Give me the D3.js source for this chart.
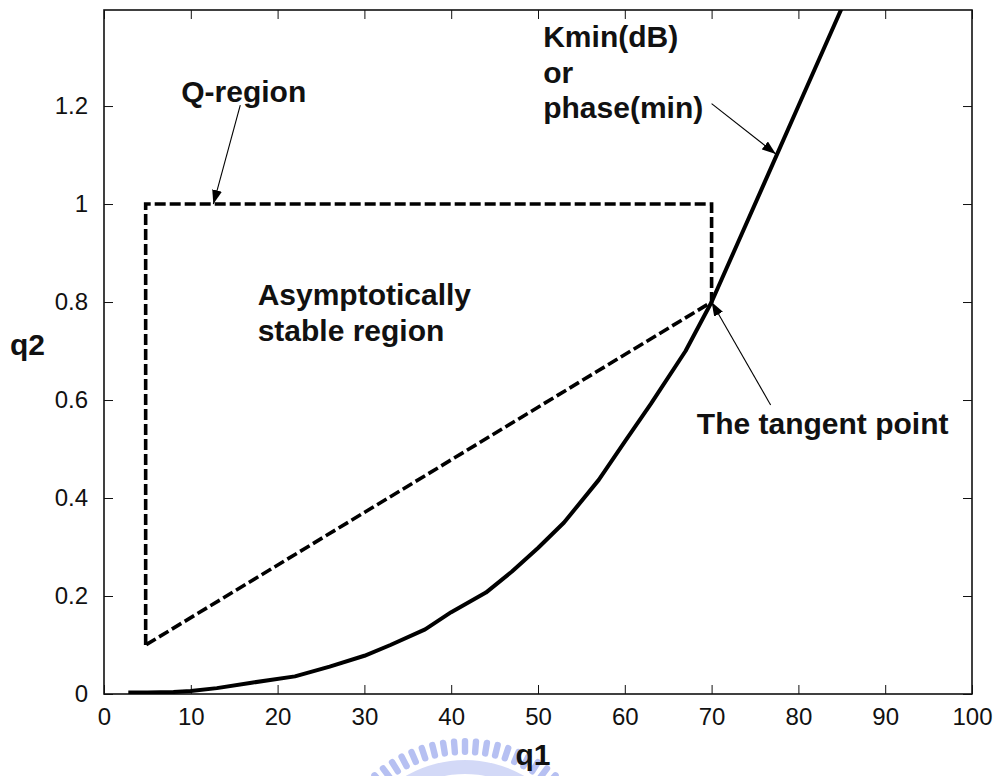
<!DOCTYPE html>
<html>
<head>
<meta charset="utf-8">
<script src="https://cdn.jsdelivr.net/npm/d3@7"></script>
<style>
  body { margin: 0; background: #fff; }
  svg { display: block; font-family: 'Liberation Sans', Arial, Helvetica, sans-serif; }
  .axis text { font-size: 24px; fill: #111; }
  .axis path, .axis line { stroke: #111; }
  .note { font-size: 30px; font-weight: bold; fill: #111; }
</style>
</head>
<body>
<div id="chart"></div>
<script>
// ── Data ──────────────────────────────────────────────────────────────────
// Kmin(dB) / phase(min) boundary curve
const curveQ1 = [2.8, 5, 8, 10, 13, 17, 22, 26, 30, 33, 37, 40, 44, 47, 50, 53, 57, 60, 63, 67, 70, 73, 77, 80, 83, 86];
const curveQ2 = [0.003, 0.003, 0.004, 0.006, 0.012, 0.023, 0.036, 0.056, 0.078, 0.100, 0.132, 0.167, 0.207, 0.250, 0.298, 0.350, 0.437, 0.515, 0.592, 0.700, 0.800, 0.920, 1.080, 1.200, 1.320, 1.440];

// Q-region outline (dashed)
const regionQ1 = [4.8, 4.8, 70, 70, 4.8];
const regionQ2 = [0.1, 1, 1, 0.8, 0.1];

const xTicks = [0, 10, 20, 30, 40, 50, 60, 70, 80, 90, 100];
const yTicks = [0, 0.2, 0.4, 0.6, 0.8, 1, 1.2];

// ── Layout ────────────────────────────────────────────────────────────────
const W = 1000, H = 776;
const margin = { top: 10, right: 28, bottom: 82, left: 104 };
const width  = W - margin.left - margin.right;
const height = H - margin.top - margin.bottom;

const svg = d3.select('#chart')
  .append('svg')
  .attr('width', W)
  .attr('height', H);

// faint seal watermark behind the q1 label
const wm = svg.append('g').attr('fill', '#aab6f0').attr('opacity', 0.85);
const wmC = { x: 465, y: 878 };
d3.range(-46, 47, 4.6).forEach(a => {
  wm.append('rect')
    .attr('x', -3.2).attr('y', -140).attr('width', 6.4).attr('height', 17)
    .attr('rx', 3)
    .attr('transform', `translate(${wmC.x},${wmC.y}) rotate(${a})`);
});
wm.append('path')
  .attr('transform', `translate(${wmC.x},${wmC.y})`)
  .attr('d', d3.arc().innerRadius(104).outerRadius(118).startAngle(-1.0).endAngle(1.0)())
  .attr('opacity', 0.6);

const g = svg.append('g')
  .attr('transform', `translate(${margin.left},${margin.top})`);

const x = d3.scaleLinear().domain([0, 100]).range([0, width]);
const y = d3.scaleLinear().domain([0, 1.396]).range([height, 0]);

// clip for the curve
g.append('clipPath').attr('id', 'plotclip')
  .append('rect').attr('width', width).attr('height', height);

// ── Axes (ticks inside, mirrored on all sides) ───────────────────────────
const tk = 9;
g.append('g')
  .attr('class', 'axis')
  .attr('transform', `translate(0,${height})`)
  .call(d3.axisBottom(x).tickValues(xTicks).tickSizeInner(-tk).tickSizeOuter(0).tickPadding(14))
  .call(s => s.select('.domain').remove())
  .selectAll('text').attr('dy', '0.71em');

g.append('g')
  .attr('class', 'axis')
  .call(d3.axisTop(x).tickValues(xTicks).tickSizeInner(-tk).tickSizeOuter(0).tickFormat(''))
  .call(s => s.select('.domain').remove());

g.append('g')
  .attr('class', 'axis')
  .call(d3.axisLeft(y).tickValues(yTicks).tickSizeInner(-tk).tickSizeOuter(0).tickPadding(16)
    .tickFormat(d => d3.format('~g')(d)))
  .call(s => s.select('.domain').remove());

g.append('g')
  .attr('class', 'axis')
  .attr('transform', `translate(${width},0)`)
  .call(d3.axisRight(y).tickValues(yTicks).tickSizeInner(-tk).tickSizeOuter(0).tickFormat(''))
  .call(s => s.select('.domain').remove());

g.append('rect')
  .attr('width', width).attr('height', height)
  .attr('fill', 'none').attr('stroke', '#111').attr('stroke-width', 1.6);

// ── Series ───────────────────────────────────────────────────────────────
const curveData  = curveQ1.map((q, i) => [q, curveQ2[i]]);
const regionData = regionQ1.map((q, i) => [q, regionQ2[i]]);

const line = d3.line().x(d => x(d[0])).y(d => y(d[1]));

g.append('path')
  .datum(regionData)
  .attr('d', line)
  .attr('fill', 'none')
  .attr('stroke', '#000')
  .attr('stroke-width', 3.6)
  .attr('stroke-dasharray', '11,4')
  .attr('stroke-linejoin', 'miter');

g.append('path')
  .datum(curveData)
  .attr('clip-path', 'url(#plotclip)')
  .attr('d', line)
  .attr('fill', 'none')
  .attr('stroke', '#000')
  .attr('stroke-width', 4)
  .attr('stroke-linejoin', 'round');

// ── Annotations ──────────────────────────────────────────────────────────
svg.append('defs').append('marker')
  .attr('id', 'head')
  .attr('viewBox', '0 0 14 10')
  .attr('refX', 14).attr('refY', 5)
  .attr('markerWidth', 14).attr('markerHeight', 10)
  .attr('markerUnits', 'userSpaceOnUse')
  .attr('orient', 'auto')
  .append('path').attr('d', 'M0,0 L14,5 L0,10 Z').attr('fill', '#000');

const arrows = [
  { from: [15.7, 1.202], to: [12.6, 1.0] },
  { from: [70.0, 1.205], to: [77.4, 1.102] },
  { from: [76.8, 0.590], to: [70.0, 0.800] }
];
arrows.forEach(a => {
  g.append('line')
    .attr('x1', x(a.from[0])).attr('y1', y(a.from[1]))
    .attr('x2', x(a.to[0])).attr('y2', y(a.to[1]))
    .attr('stroke', '#000').attr('stroke-width', 1.1)
    .attr('marker-end', 'url(#head)');
});

const notes = [
  { t: 'Q-region',         q1: 8.9,  q2: 1.208 },
  { t: 'Kmin(dB)',         q1: 50.6, q2: 1.320 },
  { t: 'or',               q1: 50.6, q2: 1.247 },
  { t: 'phase(min)',       q1: 50.6, q2: 1.176 },
  { t: 'Asymptotically',   q1: 17.7, q2: 0.794 },
  { t: 'stable region',    q1: 17.7, q2: 0.720 },
  { t: 'The tangent point', q1: 68.3, q2: 0.531 }
];
g.selectAll('.note')
  .data(notes)
  .enter()
  .append('text')
  .attr('class', 'note')
  .attr('x', d => x(d.q1))
  .attr('y', d => y(d.q2))
  .text(d => d.t);

// axis titles
svg.append('text').attr('class', 'note')
  .attr('x', 533).attr('y', 765).attr('text-anchor', 'middle')
  .text('q1');
svg.append('text').attr('class', 'note')
  .attr('x', 10).attr('y', 355)
  .text('q2');
</script>
</body>
</html>
